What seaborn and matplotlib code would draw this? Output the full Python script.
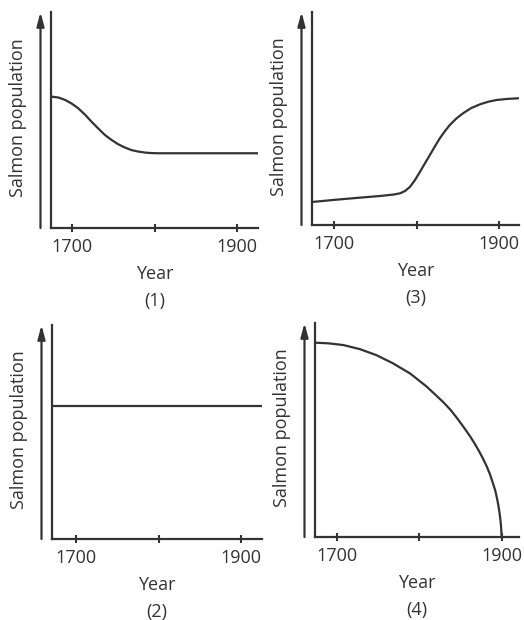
import matplotlib
matplotlib.use("Agg")
import matplotlib.pyplot as plt
import seaborn as sns
import pandas as pd

# ---- data ----
years_1 = [1676, 1684, 1692, 1700, 1708, 1716, 1724, 1732, 1740, 1748, 1756,
           1764, 1772, 1780, 1789, 1796, 1804, 1850, 1925]
pop_1 = [60.8, 60.4, 59.3, 57.6, 55.4, 52.5, 49.2, 46.1, 43.1, 40.8, 38.8,
         37.3, 36.1, 35.4, 34.9, 34.7, 34.6, 34.6, 34.6]

years_2 = [1672, 1925]
pop_2 = [62.0, 62.0]

years_3 = [1673, 1700, 1730, 1755, 1772, 1780, 1786, 1792, 1798, 1804, 1810,
           1816, 1822, 1828, 1834, 1840, 1848, 1856, 1866, 1877, 1887, 1897,
           1910, 1924]
pop_3 = [10.8, 11.8, 12.8, 13.6, 14.3, 14.9, 16.0, 18.0, 21.2, 25.0, 29.0,
         32.9, 36.9, 40.7, 44.0, 46.9, 50.0, 52.4, 54.9, 56.7, 57.9, 58.7,
         59.2, 59.5]

years_4 = [1674, 1690, 1708, 1728, 1748, 1768, 1789, 1809, 1829, 1838, 1846,
           1854, 1862, 1867, 1872, 1877, 1882, 1886, 1889, 1892, 1894, 1896,
           1897.5, 1898.6, 1899.3, 1900]
pop_4 = [90.8, 90.5, 89.7, 87.8, 85.0, 81.2, 76.4, 70.3, 63.1, 59.4, 55.5,
         51.3, 46.9, 43.8, 40.5, 36.9, 32.9, 29.1, 25.6, 22.0, 18.7, 14.8,
         11.0, 7.6, 4.5, 0.0]

tick_years = [1700, 1800, 1900]
tick_labels = ["1700", "", "1900"]
panel_labels = ["(1)", "(2)", "(3)", "(4)"]
x_label = "Year"
y_label = "Salmon population"

sns.set_theme(style="white")
plt.rcParams["font.family"] = ["Open Sans", "DejaVu Sans"]

INK = "#333333"
FS = 13
W, H = 524, 620
fig = plt.figure(figsize=(W / 100, H / 100), dpi=100)
fig.patch.set_facecolor("white")


def px_axes(left, top, right, bottom):
    return fig.add_axes([left / W, 1 - bottom / H, (right - left) / W, (bottom - top) / H])


panels = [
    # (axes box px, xlim, years, pop, label)
    ((51, 12, 258, 228), (1675, 1925), years_1, pop_1, panel_labels[0]),
    ((52, 325, 262, 539), (1671, 1925), years_2, pop_2, panel_labels[1]),
    ((312, 12, 519, 225), (1673, 1924), years_3, pop_3, panel_labels[2]),
    ((315, 323, 519, 537), (1673.7, 1921), years_4, pop_4, panel_labels[3]),
]

for box, xlim, yrs, pop, lab in panels:
    ax = px_axes(*box)
    df = pd.DataFrame({"Year": yrs, "Population": pop})
    sns.lineplot(data=df, x="Year", y="Population", ax=ax, color=INK,
                 linewidth=1.6, sort=False, estimator=None, legend=False)
    for ln in ax.lines:
        ln.set_clip_on(False)
        ln.set_solid_capstyle("butt")
        ln.set_solid_joinstyle("round")
    ax.set_xlim(*xlim)
    ax.set_ylim(0, 100)
    ax.set_facecolor("none")
    for s in ["top", "right"]:
        ax.spines[s].set_visible(False)
    for s in ["left", "bottom"]:
        ax.spines[s].set_color(INK)
        ax.spines[s].set_linewidth(1.6)
    ax.set_xticks(tick_years)
    ax.set_xticklabels(tick_labels)
    ax.set_yticks([])
    ax.tick_params(axis="x", direction="inout", length=6, width=1.5,
                   color=INK, labelcolor=INK, labelsize=FS, pad=4, bottom=True)
    axw = box[2] - box[0]
    axh = box[3] - box[1]
    ax.set_xlabel(x_label, fontsize=FS, color=INK, va="center", ha="center")
    ax.xaxis.set_label_coords(0.5, -46 / axh)
    ax.set_ylabel(y_label, fontsize=FS, color=INK, va="center", ha="center",
                  rotation=90)
    ax.yaxis.set_label_coords(-33 / axw, 0.51)
    ax.text(0.5, -73 / axh, lab, transform=ax.transAxes, ha="center",
            va="center", fontsize=FS, color=INK)
    # arrow parallel to the y axis
    ax.annotate("", xy=(-10.5 / axw, 1.0), xytext=(-10.5 / axw, 0.0),
                xycoords="axes fraction", textcoords="axes fraction",
                annotation_clip=False,
                arrowprops=dict(arrowstyle="-|>,head_width=0.2,head_length=0.75",
                                color=INK, lw=1.6,
                                mutation_scale=11, shrinkA=0, shrinkB=0))

fig.savefig("out.png", dpi=100, facecolor="white")
